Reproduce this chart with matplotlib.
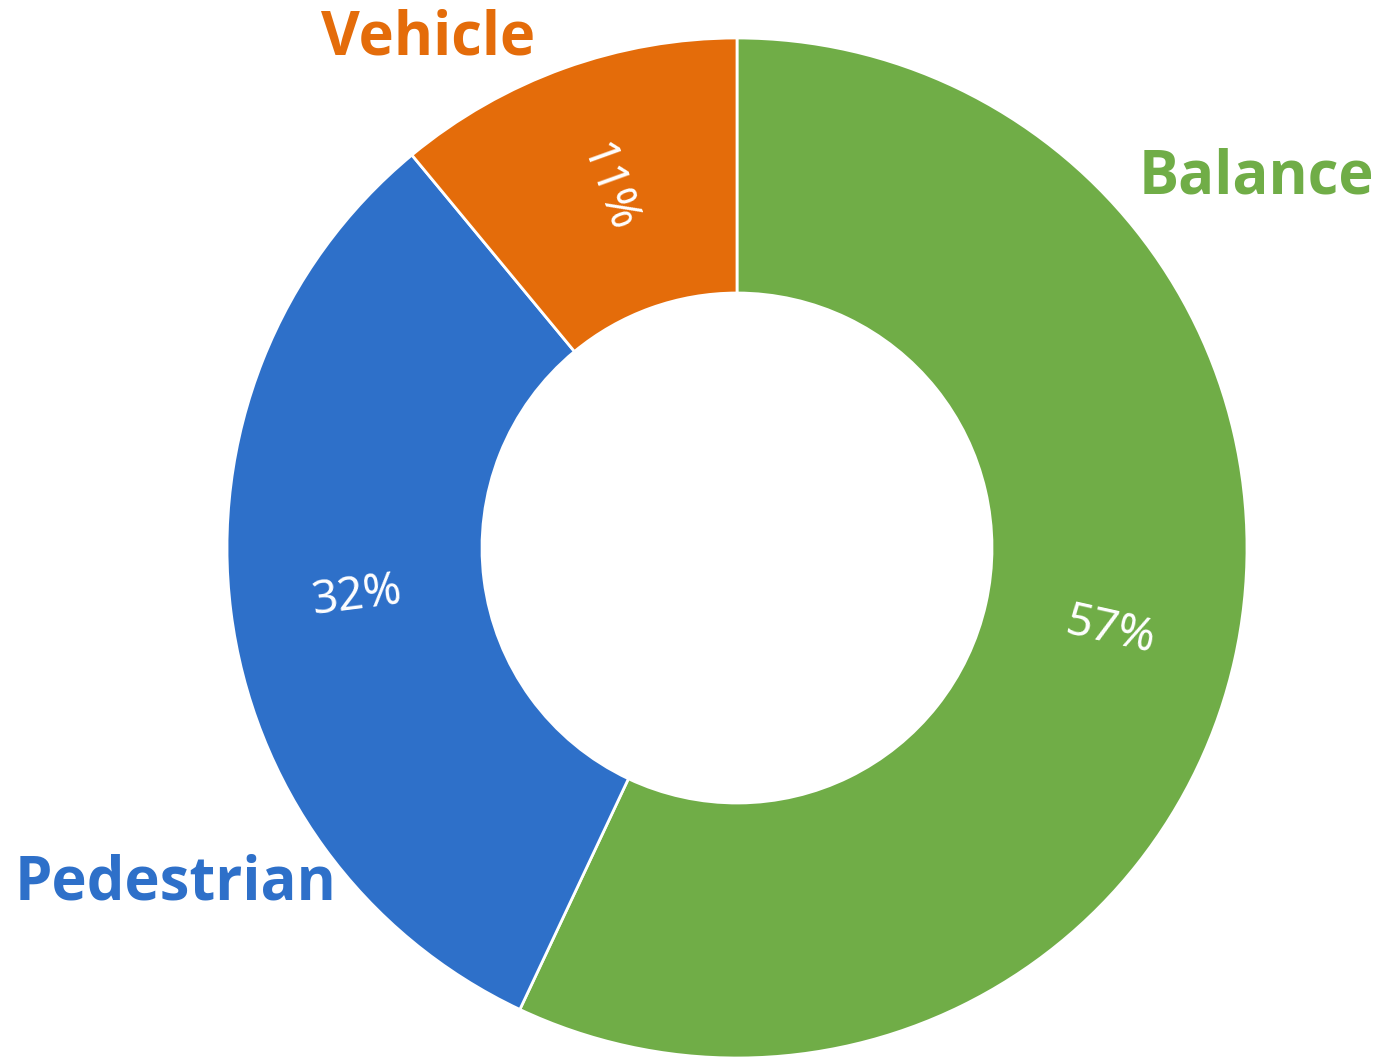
import matplotlib
matplotlib.use("Agg")
import matplotlib.pyplot as plt
import numpy as np

categories = ["Balance", "Pedestrian", "Vehicle"]
values = [57, 32, 11]
pct_labels = ["57%", "32%", "11%"]
colors = ["#70AD47", "#2E70C9", "#E46C0A"]

W, H = 1395, 1059
fig = plt.figure(figsize=(W / 100, H / 100), dpi=100)
ax = fig.add_axes([0, 0, 1, 1])

cx, cy = 737, H - 548
R = 510
ring = 255
wedges, _ = ax.pie(values, colors=colors, startangle=90, counterclock=False,
                   radius=R, center=(cx, cy),
                   wedgeprops=dict(width=ring, edgecolor="white", linewidth=2))
ax.set_xlim(0, W)
ax.set_ylim(0, H)
ax.set_aspect("equal")
ax.axis("off")

rmid = R - ring / 2
for w, lab in zip(wedges, pct_labels):
    ang = (w.theta1 + w.theta2) / 2
    x = cx + rmid * np.cos(np.deg2rad(ang))
    y = cy + rmid * np.sin(np.deg2rad(ang))
    rot = ang
    if rot > 90:
        rot -= 180
    if rot < -90:
        rot += 180
    ax.text(x, y, lab, color="white", fontsize=33, family="Noto Sans",
            weight="normal", style="normal", rotation=rot, rotation_mode="anchor",
            ha="center", va="center")

name_pos = {"Balance": (1256, H - 178), "Pedestrian": (176, H - 884), "Vehicle": (428, H - 39)}
for cat, col in zip(categories, colors):
    x, y = name_pos[cat]
    ax.text(x, y, cat, color=col, fontsize=43, family="Open Sans", weight="bold",
            ha="center", va="center")

fig.savefig("out.png", dpi=100, facecolor="white")
